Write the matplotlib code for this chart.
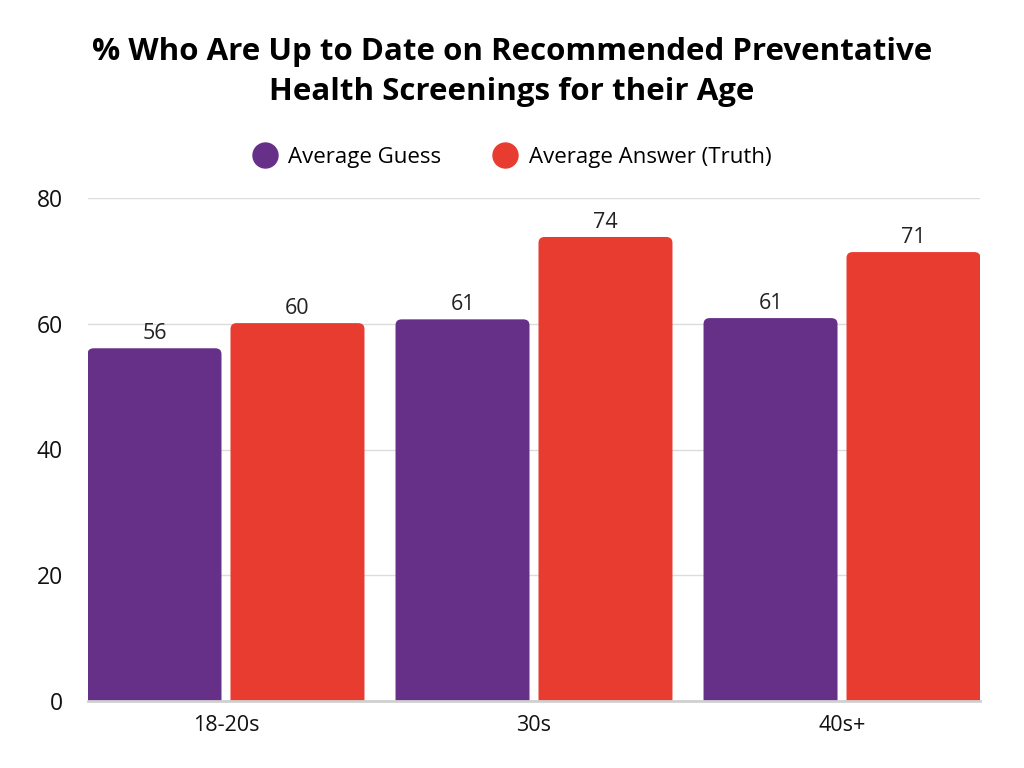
import matplotlib
matplotlib.use("Agg")
import matplotlib.pyplot as plt
import numpy as np
from matplotlib.patches import FancyBboxPatch
from matplotlib.lines import Line2D

categories = ["18-20s", "30s", "40s+"]
guess = [56.1, 60.7, 60.9]
truth = [60.1, 73.8, 71.4]
series_names = ["Average Guess", "Average Answer (Truth)"]
yticks = [0, 20, 40, 60, 80]

purple = "#663089"
red = "#E83C31"

plt.rcParams['font.family'] = ['Open Sans', 'DejaVu Sans']

fig = plt.figure(figsize=(10.24, 7.68), dpi=100)
ax = fig.add_axes([88/1024, 1-701/768, 892/1024, 503/768])

x = np.arange(len(categories))
w = 0.435
off = w/2 + 0.0146
b1 = ax.bar(x - off, guess, w, color=purple, label=series_names[0], zorder=3)
b2 = ax.bar(x + off, truth, w, color=red, label=series_names[1], zorder=3)

# round the top corners
r = 0.02
aspect = 0.95 / r
for bars in (b1, b2):
    for rect in bars:
        rect.set_visible(False)
        fb = FancyBboxPatch((rect.get_x(), -3), rect.get_width(), rect.get_height() + 3,
                            boxstyle=f"round,pad=0,rounding_size={r}",
                            mutation_aspect=aspect, facecolor=rect.get_facecolor(),
                            edgecolor="none", zorder=3)
        ax.add_patch(fb)

for bars, vals in ((b1, guess), (b2, truth)):
    for rect, v in zip(bars, vals):
        ax.text(rect.get_x() + rect.get_width()/2, v + 0.7, f"{round(v)}",
                ha="center", va="bottom", fontsize=15.5, color="#222222")

ax.set_xlim(-0.448, 2.448)
ax.set_ylim(0, 80)
ax.set_yticks(yticks)
ax.set_xticks(x)
ax.set_xticklabels(categories)
ax.tick_params(axis="both", length=0, colors="#111111")
ax.tick_params(axis="y", pad=18, labelsize=16.5)
ax.tick_params(axis="x", pad=10, labelsize=15.5)
ax.grid(axis="y", color="#dcdcdc", linewidth=1, zorder=0)
for s in ["top", "right", "left"]:
    ax.spines[s].set_visible(False)
ax.spines["bottom"].set_color("#d0d0d0")
ax.spines["bottom"].set_linewidth(2)
ax.spines["bottom"].set_zorder(4)

fig.text(0.5, 1-72/768, "% Who Are Up to Date on Recommended Preventative\nHealth Screenings for their Age",
         ha="center", va="center", fontsize=22.5, fontweight="bold", linespacing=1.45)

handles = [Line2D([], [], marker="o", linestyle="", markersize=18, color=purple),
           Line2D([], [], marker="o", linestyle="", markersize=18, color=red)]
fig.legend(handles, series_names, loc="center", bbox_to_anchor=(0.495, 1-157/768),
           ncol=2, frameon=False, fontsize=16, handletextpad=0.05, columnspacing=1.9)

fig.savefig("out.png", dpi=100, facecolor="white")
